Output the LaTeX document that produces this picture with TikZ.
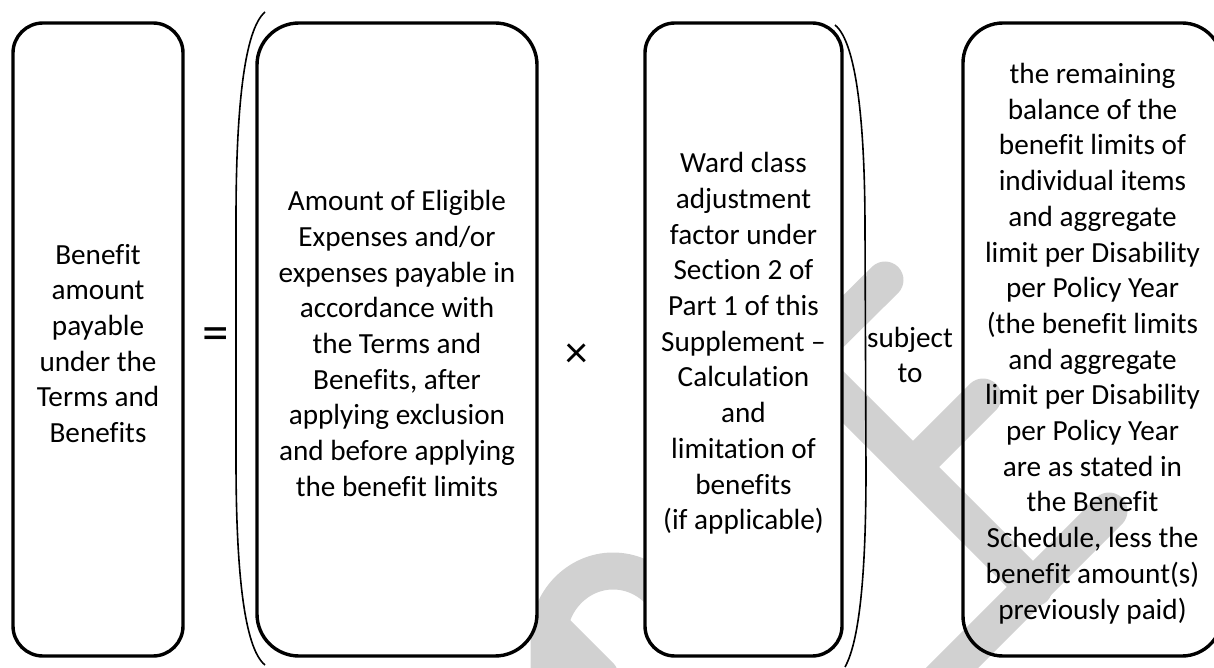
\documentclass[tikz,border=0pt]{standalone}
\usepackage{fontspec}
\setmainfont{Carlito}[Ligatures={NoCommon}]
\def\pxu{0.3767pt}
\begin{document}
\begin{tikzpicture}[x=0.3767pt,y=-0.3767pt,
  box/.style={draw=black, line width=3.4*\pxu, rounded corners=30*\pxu,
    minimum height=633*\pxu, inner sep=0pt},
  txt/.style={align=center, inner sep=0pt, font=\fontsize{11}{13.45}\selectfont},
  wm/.style={draw=black!18, line width=37*\pxu, line cap=round, line join=round},
  paren/.style={draw=black, line width=1.6*\pxu}]
\useasboundingbox (0,0) rectangle (1214,668);
\clip (0,0) rectangle (1214,668);
% watermark (behind)
\draw[wm] (885,280) -- (805,359) -- (1034,588);
\draw[wm] (913,467) -- (983,397);
\draw[wm] (1109,511) -- (935,685);
\draw[wm] (549,690) -- (549,636) .. controls (549,601) and (578,571) .. (613,571)
  .. controls (648,571) and (677,600) .. (677,636);
\draw[wm] (556,632) -- (600,676);
% boxes
\node[box, fill=white, minimum width=170*\pxu] (b1) at (98,339.5) {};
\node[box, fill=white, minimum width=280*\pxu, rounded corners=42*\pxu] (b2) at (397,339.5) {};
\node[box, fill=white, minimum width=197*\pxu] (b3) at (743.5,339.5) {};
\node[box, minimum width=259*\pxu, rounded corners=40*\pxu] (b4) at (1092.5,339.5) {};
% box texts
\node[txt] (t1) at (b1.center) [yshift=-4*\pxu]
  {Benefit\\amount\\payable\\under the\\Terms and\\Benefits};
\node[txt] (t2) at (b2.center) [yshift=-4*\pxu]
  {Amount of Eligible\\Expenses and/or\\expenses payable in\\accordance with\\the Terms and\\Benefits, after\\applying exclusion\\and before applying\\the benefit limits};
\node[txt] (t3) at (b3.center) [yshift=-4*\pxu]
  {Ward class\\adjustment\\factor under\\Section 2 of\\Part 1 of this\\Supplement –\\Calculation\\and\\limitation of\\benefits\\(if applicable)};
\node[txt] (t4) at (b4.center) [yshift=-4*\pxu]
  {the remaining\\balance of the\\benefit limits of\\individual items\\and aggregate\\limit per Disability\\per Policy Year\\(the benefit limits\\and aggregate\\limit per Disability\\per Policy Year\\are as stated in\\the Benefit\\Schedule, less the\\benefit amount(s)\\previously paid)};
% operators
\node[inner sep=0pt, font=\fontsize{20}{22}\selectfont] (eq) at (216,339) {=};
\node[inner sep=0pt, font=\fontsize{17}{19}\selectfont] (times) at (577,356) {×};
\node[txt] (subj) at (910,355) {subject\\to};
% parentheses
\draw[paren] (265,12) .. controls (244,30) and (236,110) .. (236,220)
  -- (236,460) .. controls (236,570) and (244,648) .. (265,665);
\draw[paren] (835,25) .. controls (856,42) and (865,120) .. (865,230)
  -- (866,470) .. controls (866,570) and (860,640) .. (845,667);
\end{tikzpicture}
\end{document}
